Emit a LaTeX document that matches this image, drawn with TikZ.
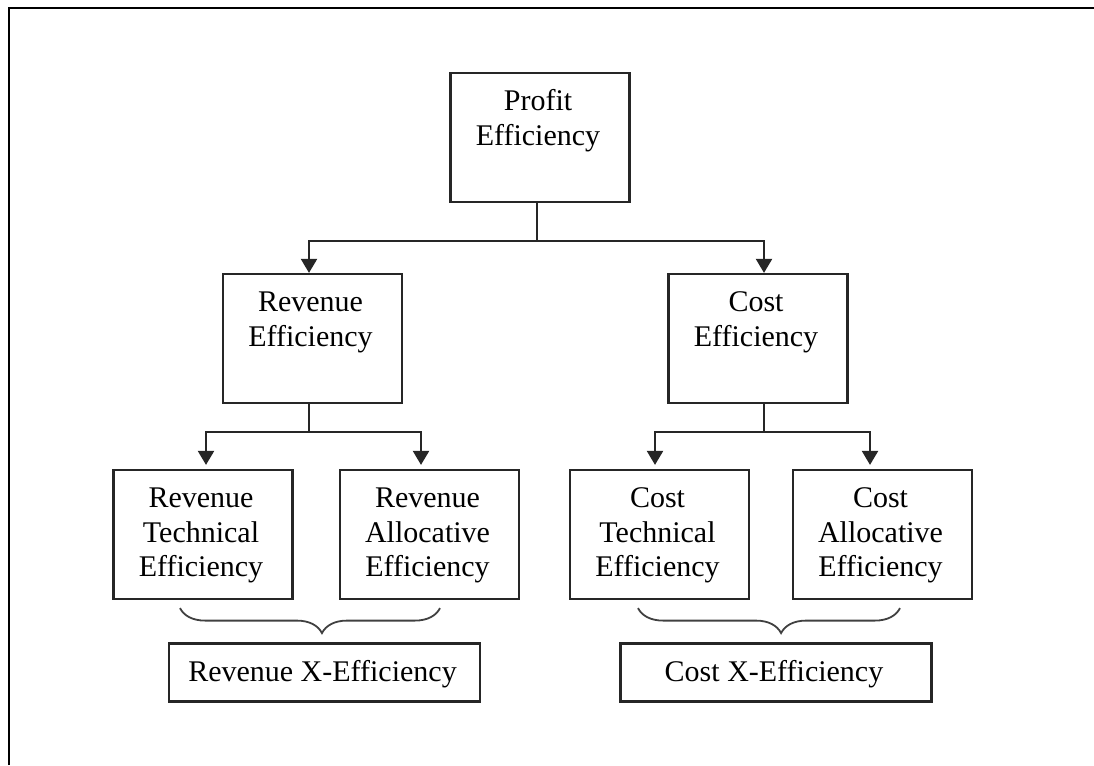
\documentclass[tikz,border=0pt]{standalone}
\usepackage{fontspec}
\setmainfont{Liberation Serif}
\usetikzlibrary{arrows.meta,decorations.pathreplacing,calc}

\begin{document}
\begin{tikzpicture}[x=1pt,y=-1pt,
  box/.style={draw=black!85, line width=2.2pt, inner sep=0pt, fill=white},
  tallbox/.style={box, minimum width=179pt, minimum height=129pt},
  flatbox/.style={box, minimum width=311pt, minimum height=58pt},
  label/.style={font=\fontsize{30}{34.4}\selectfont, align=center, inner sep=0pt, anchor=base},
  link/.style={draw=black!85, line width=2.2pt},
  arr/.style={link, -{Triangle[length=14pt,width=16pt]}},
  curly/.style={draw=black!75, line width=1.8pt,
    decorate, decoration={brace, mirror, amplitude=25pt, aspect=0.546}}
]
\useasboundingbox (0,0) rectangle (1094,765);

% page frame (top and left edges only)
\draw[line width=2.8pt, black] (9,765) -- (9,8) -- (1094,8);

% boxes
\node[tallbox] (pe) at (540,137.5) {};
\node[tallbox] (re) at (312.5,338.5) {};
\node[tallbox] (ce) at (758,338.5) {};
\node[tallbox] (rt) at (203,534.5) {};
\node[tallbox] (ra) at (429.5,534.5) {};
\node[tallbox] (ct) at (659.5,534.5) {};
\node[tallbox] (ca) at (882.5,534.5) {};
\node[flatbox] (rx) at (324.5,672.5) {};
\node[flatbox] (cx) at (776,672.5) {};

% box texts (anchored on the baseline of the last line)
\node[label] (pe-t) at ([shift={(-2pt,-73.4pt)}]pe.north) {Profit\\Efficiency};
\node[label] (re-t) at ([shift={(-2pt,-73.4pt)}]re.north) {Revenue\\Efficiency};
\node[label] (ce-t) at ([shift={(-2pt,-73.4pt)}]ce.north) {Cost\\Efficiency};
\node[label] (rt-t) at ([shift={(-2pt,-107.5pt)}]rt.north) {Revenue\\Technical\\Efficiency};
\node[label] (ra-t) at ([shift={(-2pt,-107.5pt)}]ra.north) {Revenue\\Allocative\\Efficiency};
\node[label] (ct-t) at ([shift={(-2pt,-107.5pt)}]ct.north) {Cost\\Technical\\Efficiency};
\node[label] (ca-t) at ([shift={(-2pt,-107.5pt)}]ca.north) {Cost\\Allocative\\Efficiency};
\node[label] (rx-t) at ([shift={(-2pt,-39pt)}]rx.north) {Revenue X-Efficiency};
\node[label] (cx-t) at ([shift={(-2pt,-39pt)}]cx.north) {Cost X-Efficiency};

% top split
\draw[link] ([xshift=-3pt]pe.south) -- ++(0,38) coordinate (pj);
\draw[arr] (pj) -| ([xshift=-3.5pt]re.north);
\draw[arr] (pj) -| ([xshift=6pt]ce.north);

% revenue split
\draw[link] ([xshift=-3.5pt]re.south) -- ++(0,28) coordinate (rj);
\draw[arr, shorten >=4pt] (rj) -| ([xshift=3pt]rt.north);
\draw[arr, shorten >=4pt] (rj) -| ([xshift=-8.5pt]ra.north);

% cost split
\draw[link] ([xshift=6pt]ce.south) -- ++(0,28) coordinate (cj);
\draw[arr, shorten >=4pt] (cj) -| ([xshift=-4.5pt]ct.north);
\draw[arr, shorten >=4pt] (cj) -| ([xshift=-12.5pt]ca.north);

% braces grouping technical and allocative parts
\coordinate (rb1) at ([shift={(-23pt,-8pt)}]rt.south);
\coordinate (rb2) at ([shift={(10.5pt,-8pt)}]ra.south);
\coordinate (cb1) at ([shift={(-21.5pt,-8pt)}]ct.south);
\coordinate (cb2) at ([shift={(17.5pt,-8pt)}]ca.south);
\draw[curly] (rb1) -- (rb2);
\draw[curly] (cb1) -- (cb2);
\end{tikzpicture}
\end{document}
